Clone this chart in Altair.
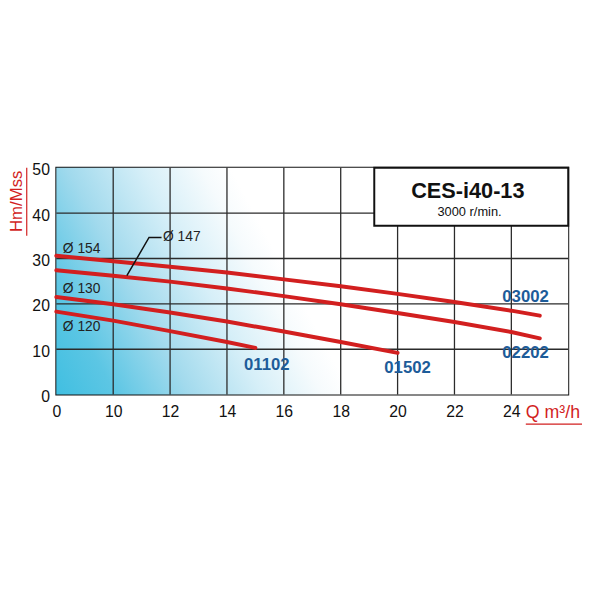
import altair as alt
import pandas as pd

# broken flow axis: 0 -> 10 takes one grid cell, then 2 m3/h per cell
x_ticks = [0, 10, 12, 14, 16, 18, 20, 22, 24, 26]
y_ticks = [0, 10, 20, 30, 40, 50]

models = ["03002", "02202", "01502", "01102"]
diameters = ["Ø 154", "Ø 147", "Ø 130", "Ø 120"]

q_03002 = [0, 10, 12, 14, 16, 18, 20, 22, 24, 25]
h_03002 = [30.6, 29.4, 28.2, 26.9, 25.4, 23.9, 22.2, 20.4, 18.5, 17.4]
q_02202 = [0, 10, 12, 14, 16, 18, 20, 22, 24, 25]
h_02202 = [27.4, 26.2, 24.9, 23.4, 21.7, 19.9, 18.0, 16.0, 13.8, 12.4]
q_01502 = [0, 10, 12, 14, 16, 18, 20]
h_01502 = [21.5, 19.9, 18.1, 16.1, 13.9, 11.6, 9.2]
q_01102 = [0, 10, 12, 14, 15]
h_01102 = [18.3, 16.3, 14.0, 11.6, 10.3]

# label anchors (Q, H)
model_q = [24.5, 24.5, 20.35, 15.4]
model_h = [21.4, 9.2, 5.8, 6.5]
diam_q = [1.15, 11.75, 1.15, 1.15]
diam_h = [32.0, 34.65, 23.2, 14.9]
leader_q = [10.48, 11.26, 11.7]
leader_h = [26.2, 34.65, 34.65]

FONT = "Liberation Sans"
RED = "#d21f1f"
BLUE = "#1d5c99"

curves = pd.concat([
    pd.DataFrame({"Q": q_03002, "H": h_03002, "model": models[0]}),
    pd.DataFrame({"Q": q_02202, "H": h_02202, "model": models[1]}),
    pd.DataFrame({"Q": q_01502, "H": h_01502, "model": models[2]}),
    pd.DataFrame({"Q": q_01102, "H": h_01102, "model": models[3]}),
])
model_df = pd.DataFrame({"Q": model_q, "H": model_h, "label": models})
diam_df = pd.DataFrame({"Q": diam_q, "H": diam_h, "label": diameters})
leader_df = pd.DataFrame({"Q": leader_q, "H": leader_h, "order": [0, 1, 2]})
vgrid_df = pd.DataFrame({"Q": x_ticks[1:-1]})
hgrid_df = pd.DataFrame({"H": y_ticks[1:-1]})
box_df = pd.DataFrame({"Q": [19.18], "Q2": [26], "H": [37.2], "H2": [50]})
name_df = pd.DataFrame({"Q": [22.47], "H": [44.8], "label": ["CES-i40-13"]})
speed_df = pd.DataFrame({"Q": [22.53], "H": [40.2], "label": ["3000 r/min."]})
glow_df = pd.DataFrame({"Q": [0], "Q2": [26], "H": [0], "H2": [50]})

to_u = "datum.Q <= 10 ? datum.Q / 10 : (datum.Q - 8) / 2"
to_u2 = "datum.Q2 <= 10 ? datum.Q2 / 10 : (datum.Q2 - 8) / 2"

label_expr = "[" + ",".join(f"'{t}'" for t in x_ticks) + "][datum.value]"
x_axis = alt.Axis(values=list(range(len(x_ticks) - 1)), labelExpr=label_expr,
                  grid=False, ticks=False, domain=False, title=None,
                  labelFont=FONT, labelFontSize=16, labelColor="#111",
                  labelPadding=9, labelFlush=False)
y_axis = alt.Axis(values=y_ticks, grid=False, ticks=False, domain=False,
                  title=None, labelFont=FONT, labelFontSize=16,
                  labelColor="#111", labelPadding=7, labelOffset=2,
                  labelFlush=False)
x_scale = alt.Scale(domain=[0, len(x_ticks) - 1], nice=False, zero=False)
y_scale = alt.Scale(domain=[0, 50], nice=False)


def X(field):
    return alt.X(f"{field}:Q", scale=x_scale, axis=x_axis)


def Y(field):
    return alt.Y(f"{field}:Q", scale=y_scale, axis=y_axis)


# cyan glow from the lower left corner, fading to white up and to the right
gradient = {
    "gradient": "linear",
    "x1": 0, "y1": 1, "x2": 0.547, "y2": 0.87,
    "stops": [
        {"offset": 0, "color": "#40bfe1"},
        {"offset": 0.2, "color": "#5cc6e4"},
        {"offset": 0.45, "color": "#a2daed"},
        {"offset": 0.7, "color": "#d6eff8"},
        {"offset": 0.9, "color": "#f6fbfd"},
        {"offset": 1, "color": "#ffffff"},
    ],
}

glow = alt.Chart(glow_df).transform_calculate(u=to_u, u2=to_u2).mark_rect(
    fill=gradient
).encode(x=X("u"), x2="u2:Q", y=Y("H"), y2="H2:Q")

vgrid = alt.Chart(vgrid_df).transform_calculate(u=to_u).mark_rule(
    color="#2b2b2b", strokeWidth=1.3
).encode(x=X("u"))

hgrid = alt.Chart(hgrid_df).mark_rule(color="#2b2b2b", strokeWidth=1.3).encode(
    y=Y("H")
)

lines = alt.Chart(curves).transform_calculate(u=to_u).mark_line(
    color=RED, strokeWidth=4, strokeCap="round"
).encode(x=X("u"), y=Y("H"), detail="model:N")

leader = alt.Chart(leader_df).transform_calculate(u=to_u).mark_line(
    color="#111", strokeWidth=1.5
).encode(x=X("u"), y=Y("H"), order="order:Q")

model_text = alt.Chart(model_df).transform_calculate(u=to_u).mark_text(
    font=FONT, fontSize=17, fontWeight="bold", color=BLUE, align="center",
    baseline="middle"
).encode(x=X("u"), y=Y("H"), text="label:N")

diam_text = alt.Chart(diam_df).transform_calculate(u=to_u).mark_text(
    font=FONT, fontSize=14, color="#222", align="left", baseline="middle"
).encode(x=X("u"), y=Y("H"), text="label:N")

box = alt.Chart(box_df).transform_calculate(u=to_u, u2=to_u2).mark_rect(
    fill="white", stroke="#111", strokeWidth=2
).encode(x=X("u"), x2="u2:Q", y=Y("H"), y2="H2:Q")

name_text = alt.Chart(name_df).transform_calculate(u=to_u).mark_text(
    font=FONT, fontSize=22, fontWeight="bold", color="#111", align="center",
    baseline="middle"
).encode(x=X("u"), y=Y("H"), text="label:N")

speed_text = alt.Chart(speed_df).transform_calculate(u=to_u).mark_text(
    font=FONT, fontSize=13, color="#111", align="center", baseline="middle"
).encode(x=X("u"), y=Y("H"), text="label:N")

# axis titles, red and underlined
y_title = alt.Chart(name_df).mark_text(
    text="Hm/Mss", font=FONT, fontSize=17, color=RED, angle=270,
    align="center", baseline="middle"
).encode(x=alt.value(-40), y=alt.value(34))
y_under = alt.Chart(name_df).mark_rule(color=RED, strokeWidth=1.2).encode(
    x=alt.value(-30), y=alt.value(0), y2=alt.value(69)
)
x_title = alt.Chart(name_df).mark_text(
    text="Q m³/h", font=FONT, fontSize=18, color=RED, align="left",
    baseline="middle"
).encode(x=alt.value(476), y=alt.value(249))
x_under = alt.Chart(name_df).mark_rule(color=RED, strokeWidth=1.2).encode(
    x=alt.value(476), x2=alt.value(533), y=alt.value(260)
)

chart = alt.layer(
    glow, vgrid, hgrid, lines, leader, model_text, diam_text, box, name_text,
    speed_text, y_title, y_under, x_title, x_under
).properties(
    width=519, height=230,
    autosize="none",
    padding={"left": 49, "top": 159, "right": 16, "bottom": 40},
).configure_view(stroke="#111", strokeWidth=2)

chart.save("out.html", embed_options={"renderer": "svg", "actions": False})
